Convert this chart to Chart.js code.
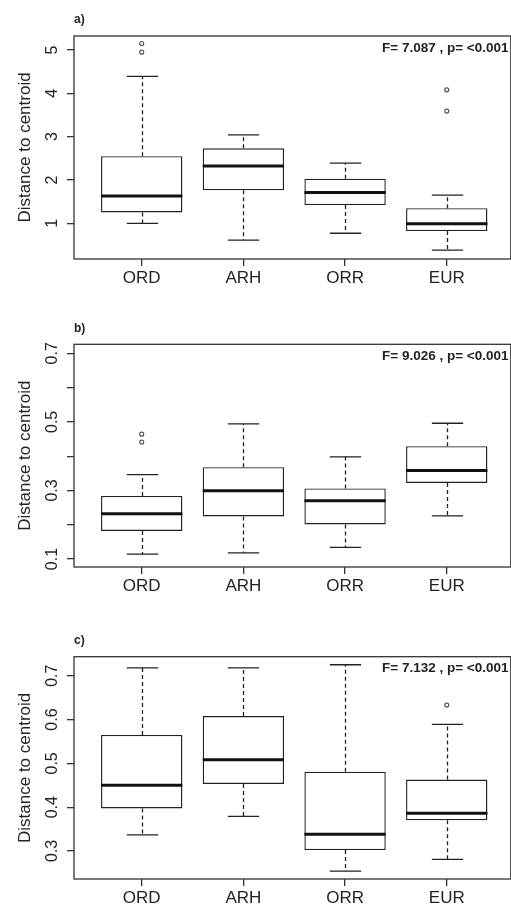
<!DOCTYPE html>
<html>
<head>
<meta charset="utf-8">
<script src="https://cdn.jsdelivr.net/npm/chart.js@4.4.0/dist/chart.umd.min.js"></script>
<style>
  body { margin: 0; background: #fff; width: 511px; height: 906px; overflow: hidden; position: relative; }
  .panel { position: absolute; left: 0; width: 516px; }
</style>
</head>
<body>
<div class="panel" style="top:0;height:300px"><canvas id="chartA" width="516" height="300"></canvas></div>
<div class="panel" style="top:300px;height:300px"><canvas id="chartB" width="516" height="300"></canvas></div>
<div class="panel" style="top:600px;height:306px"><canvas id="chartC" width="516" height="306"></canvas></div>
<script>
const groups = ['ORD', 'ARH', 'ORR', 'EUR'];

// a)
const aLow = [1.00, 0.61, 0.77, 0.38];
const aQ1 = [1.25, 1.76, 1.42, 0.82];
const aMed = [1.63, 2.32, 1.71, 0.99];
const aQ3 = [2.55, 2.73, 2.03, 1.35];
const aHigh = [4.39, 3.04, 2.39, 1.65];
const aOut = [[5.15, 4.95], [], [], [4.08, 3.59]];
const aTicks = [1, 2, 3, 4, 5];
const aTickLabels = ['1', '2', '3', '4', '5'];

// b)
const bLow = [0.114, 0.118, 0.134, 0.226];
const bQ1 = [0.182, 0.224, 0.201, 0.322];
const bMed = [0.232, 0.299, 0.270, 0.358];
const bQ3 = [0.284, 0.368, 0.306, 0.429];
const bHigh = [0.346, 0.494, 0.398, 0.496];
const bOut = [[0.464, 0.441], [], [], []];
const bTicks = [0.1, 0.2, 0.3, 0.4, 0.5, 0.6, 0.7];
const bTickLabels = ['0.1', '', '0.3', '', '0.5', '', '0.7'];

// c)
const cLow = [0.337, 0.379, 0.254, 0.281];
const cQ1 = [0.397, 0.453, 0.302, 0.370];
const cMed = [0.450, 0.508, 0.338, 0.386];
const cQ3 = [0.565, 0.608, 0.481, 0.463];
const cHigh = [0.718, 0.718, 0.725, 0.589];
const cOut = [[], [], [], [0.633]];
const cTicks = [0.3, 0.4, 0.5, 0.6, 0.7];
const cTickLabels = ['0.3', '0.4', '0.5', '0.6', '0.7'];

const ink = '#222';
const font = '"Liberation Sans", Arial, sans-serif';

// whiskers, caps, medians, frame and rotated y labels (R boxplot look)
const boxExtras = {
  id: 'boxExtras',
  beforeDatasetsDraw(chart, args, opts) {
    const ctx = chart.ctx;
    const y = chart.scales.y;
    const bars = chart.getDatasetMeta(0).data;
    ctx.save();
    ctx.strokeStyle = ink;
    ctx.lineWidth = 1.3;
    bars.forEach((bar, i) => {
      const x = Math.round(bar.x) + 0.5;
      const cap = bar.width * 0.385 / 2;
      ctx.setLineDash([4, 3]);
      ctx.beginPath();
      ctx.moveTo(x, y.getPixelForValue(opts.q3[i]));
      ctx.lineTo(x, y.getPixelForValue(opts.high[i]));
      ctx.moveTo(x, y.getPixelForValue(opts.q1[i]));
      ctx.lineTo(x, y.getPixelForValue(opts.low[i]));
      ctx.stroke();
      ctx.setLineDash([]);
      ctx.beginPath();
      [opts.high[i], opts.low[i]].forEach(v => {
        const py = y.getPixelForValue(v);
        ctx.moveTo(x - cap, py);
        ctx.lineTo(x + cap, py);
      });
      ctx.stroke();
    });
    ctx.restore();
  },
  afterDatasetsDraw(chart, args, opts) {
    const ctx = chart.ctx;
    const y = chart.scales.y;
    const bars = chart.getDatasetMeta(0).data;
    ctx.save();
    ctx.strokeStyle = '#111';
    ctx.lineWidth = 3;
    bars.forEach((bar, i) => {
      const py = y.getPixelForValue(opts.med[i]);
      ctx.beginPath();
      ctx.moveTo(bar.x - bar.width / 2, py);
      ctx.lineTo(bar.x + bar.width / 2, py);
      ctx.stroke();
    });
    ctx.restore();
  },
  afterDraw(chart, args, opts) {
    const ctx = chart.ctx;
    const a = chart.chartArea;
    const y = chart.scales.y;
    ctx.save();
    ctx.strokeStyle = '#333';
    ctx.lineWidth = 1.3;
    ctx.strokeRect(a.left, a.top, a.right - a.left, a.bottom - a.top);

    ctx.fillStyle = ink;
    ctx.font = '16px ' + font;
    ctx.textAlign = 'center';
    ctx.textBaseline = 'alphabetic';
    y.ticks.forEach((t, i) => {
      const label = opts.tickLabels[i];
      if (!label) return;
      ctx.save();
      ctx.translate(57, y.getPixelForValue(t.value));
      ctx.rotate(-Math.PI / 2);
      ctx.fillText(label, 0, 0);
      ctx.restore();
    });

    ctx.textBaseline = 'middle';
    ctx.textAlign = 'left';
    ctx.font = 'bold 12px ' + font;
    ctx.fillText(opts.tag, a.left, a.top - 16);
    ctx.textAlign = 'right';
    ctx.font = 'bold 13.5px ' + font;
    ctx.fillText(opts.stat, 508.5, a.top + 12);
    ctx.restore();
  }
};

function makeChart(id, p) {
  const outliers = [];
  p.out.forEach((vals, i) => vals.forEach(v => outliers.push({ x: i + 1, y: v })));
  return new Chart(document.getElementById(id), {
    type: 'bar',
    data: {
      datasets: [
        {
          data: groups.map((g, i) => ({ x: i + 1, y: [p.q1[i], p.q3[i]] })),
          backgroundColor: '#fff',
          borderColor: ink,
          borderWidth: 1.4,
          borderSkipped: false,
          barPercentage: 0.8,
          categoryPercentage: 1
        },
        {
          type: 'scatter',
          data: outliers,
          pointRadius: 2,
          pointBorderWidth: 1.2,
          pointBorderColor: '#555',
          pointBackgroundColor: '#fff'
        }
      ]
    },
    options: {
      responsive: false,
      animation: false,
      events: [],
      devicePixelRatio: 1,
      layout: { padding: { left: 0, right: 0.5, top: p.top, bottom: 0 } },
      scales: {
        x: {
          type: 'linear',
          offset: false,
          min: 0.334,
          max: 4.63,
          afterFit: s => { s.height = p.xHeight; s.paddingLeft = 0; s.paddingRight = 0; },
          afterBuildTicks: s => { s.ticks = groups.map((g, i) => ({ value: i + 1 })); },
          grid: { offset: false, drawOnChartArea: false, drawTicks: true, tickLength: 7, color: '#333', lineWidth: 1.3 },
          border: { display: false },
          ticks: {
            callback: v => groups[v - 1],
            autoSkip: false,
            maxRotation: 0,
            padding: 2,
            color: ink,
            font: { family: font, size: 17 }
          }
        },
        y: {
          min: p.yMin,
          max: p.yMax,
          afterFit: s => { s.width = 74; s.paddingTop = 0; s.paddingBottom = 0; },
          afterBuildTicks: s => { s.ticks = p.yTicks.map(v => ({ value: v })); },
          grid: { drawOnChartArea: false, drawTicks: true, tickLength: 7, color: '#333', lineWidth: 1.3 },
          border: { display: false },
          ticks: { display: false },
          title: {
            display: true,
            text: 'Distance to centroid',
            color: ink,
            font: { family: font, size: 17 },
            padding: { top: 15, bottom: 0 }
          }
        }
      },
      plugins: {
        legend: { display: false },
        tooltip: { enabled: false },
        boxExtras: {
          low: p.low, q1: p.q1, med: p.med, q3: p.q3, high: p.high,
          tickLabels: p.tickLabels, tag: p.tag, stat: p.stat
        }
      }
    },
    plugins: [boxExtras]
  });
}

makeChart('chartA', {
  low: aLow, q1: aQ1, med: aMed, q3: aQ3, high: aHigh, out: aOut,
  yTicks: aTicks, tickLabels: aTickLabels, yMin: 0.176, yMax: 5.323,
  top: 36, xHeight: 41, tag: 'a)', stat: 'F= 7.087 , p= <0.001'
});
makeChart('chartB', {
  low: bLow, q1: bQ1, med: bMed, q3: bQ3, high: bHigh, out: bOut,
  yTicks: bTicks, tickLabels: bTickLabels, yMin: 0.0767, yMax: 0.7263,
  top: 44.3, xHeight: 33, tag: 'b)', stat: 'F= 9.026 , p= <0.001'
});
makeChart('chartC', {
  low: cLow, q1: cQ1, med: cMed, q3: cQ3, high: cHigh, out: cOut,
  yTicks: cTicks, tickLabels: cTickLabels, yMin: 0.2361, yMax: 0.7434,
  top: 56.7, xHeight: 27, tag: 'c)', stat: 'F= 7.132 , p= <0.001'
});
</script>
</body>
</html>
